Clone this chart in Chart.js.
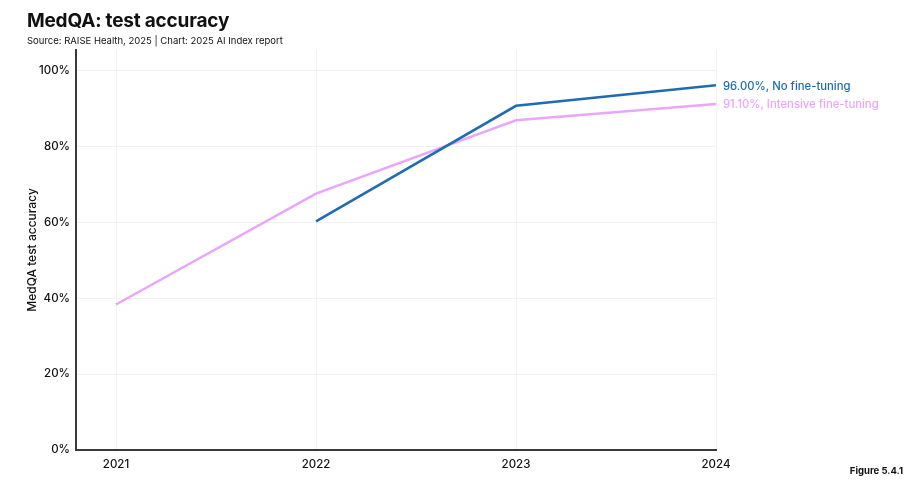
<!DOCTYPE html>
<html>
<head>
<meta charset="utf-8">
<script src="https://cdn.jsdelivr.net/npm/chart.js@4/dist/chart.umd.min.js"></script>
<style>
  body { margin: 0; background: #fff; font-family: Inter, "Open Sans", sans-serif; }
  #wrap { position: relative; width: 917px; height: 490px; }
  #title { position: absolute; left: 27px; top: 9px; font-size: 19px; font-weight: 700; color: #111; letter-spacing: -0.2px; }
  #sub { position: absolute; left: 27px; top: 35px; font-size: 9.5px; color: #111; }
  #fig { position: absolute; right: 14px; top: 465px; font-size: 9.5px; font-weight: 700; color: #111; }
  canvas { position: absolute; left: 0; top: 0; }
</style>
</head>
<body>
<div id="wrap">
  <canvas id="myChart" width="917" height="490"></canvas>
  <div id="title">MedQA: test accuracy</div>
  <div id="sub">Source: RAISE Health, 2025 | Chart: 2025 AI Index report</div>
  <div id="fig">Figure 5.4.1</div>
</div>
<script>
const years = [2021, 2022, 2023, 2024];
const noFineTuning = [null, 60.2, 90.6, 96.0];
const intensiveFineTuning = [38.3, 67.5, 86.8, 91.1];
const yTicks = [0, 20, 40, 60, 80, 100];
const seriesNames = ["No fine-tuning", "Intensive fine-tuning"];

const blue = "#1f6cb3";
const pink = "#e9a6fb";

const toPoints = (vals) => years.map((yr, i) => ({ x: yr, y: vals[i] }));

const endLabels = {
  id: "endLabels",
  afterDatasetsDraw(chart) {
    const ctx = chart.ctx;
    ctx.save();
    chart.data.datasets.forEach((ds, i) => {
      const meta = chart.getDatasetMeta(i);
      const pt = meta.data[meta.data.length - 1];
      const val = ds.data[ds.data.length - 1].y;
      ctx.font = "500 11.3px Inter, sans-serif";
      ctx.fillStyle = ds.borderColor;
      ctx.textAlign = "left";
      ctx.textBaseline = "middle";
      ctx.fillText(`${val.toFixed(2)}%, ${ds.label}`, pt.x + 7, pt.y + 1);
    });
    ctx.restore();
  },
};

const ctx = document.getElementById("myChart");
new Chart(ctx, {
  type: "line",
  data: {
    datasets: [
      {
        label: seriesNames[0],
        data: toPoints(noFineTuning),
        borderColor: blue,
        borderWidth: 2.5,
        pointRadius: 0,
        tension: 0,
      },
      {
        label: seriesNames[1],
        data: toPoints(intensiveFineTuning),
        borderColor: pink,
        borderWidth: 2.5,
        pointRadius: 0,
        tension: 0,
      },
    ],
  },
  options: {
    responsive: false,
    animation: false,
    layout: { padding: { top: 50, right: 201, left: 0, bottom: 0 } },
    plugins: {
      legend: { display: false },
      tooltip: { enabled: false },
    },
    scales: {
      x: {
        type: "linear",
        min: 2020.8,
        max: 2024,
        afterBuildTicks: (scale) => {
          scale.ticks = years.map((v) => ({ value: v }));
        },
        afterFit: (scale) => {
          scale.height = 40;
        },
        grid: { color: "#f2f2f2", drawTicks: false },
        border: { color: "#3a3a3a", width: 2 },
        ticks: {
          padding: 8,
          color: "#111",
          font: { family: "Inter", size: 11.5, weight: 500 },
          callback: (v) => String(v),
        },
      },
      y: {
        min: 0,
        max: 105.3,
        afterBuildTicks: (scale) => {
          scale.ticks = yTicks.map((v) => ({ value: v }));
        },
        afterFit: (scale) => {
          scale.width = 76;
        },
        grid: { color: "#f2f2f2", drawTicks: false },
        border: { color: "#3a3a3a", width: 2 },
        ticks: {
          padding: 6,
          color: "#111",
          font: { family: "Inter", size: 11.5, weight: 500 },
          callback: (v) => v + "%",
        },
        title: {
          display: true,
          text: "MedQA test accuracy",
          color: "#111",
          font: { family: "Inter", size: 12, weight: 500 },
          padding: { top: 25, bottom: 0 },
        },
      },
    },
  },
  plugins: [endLabels],
});
</script>
</body>
</html>
